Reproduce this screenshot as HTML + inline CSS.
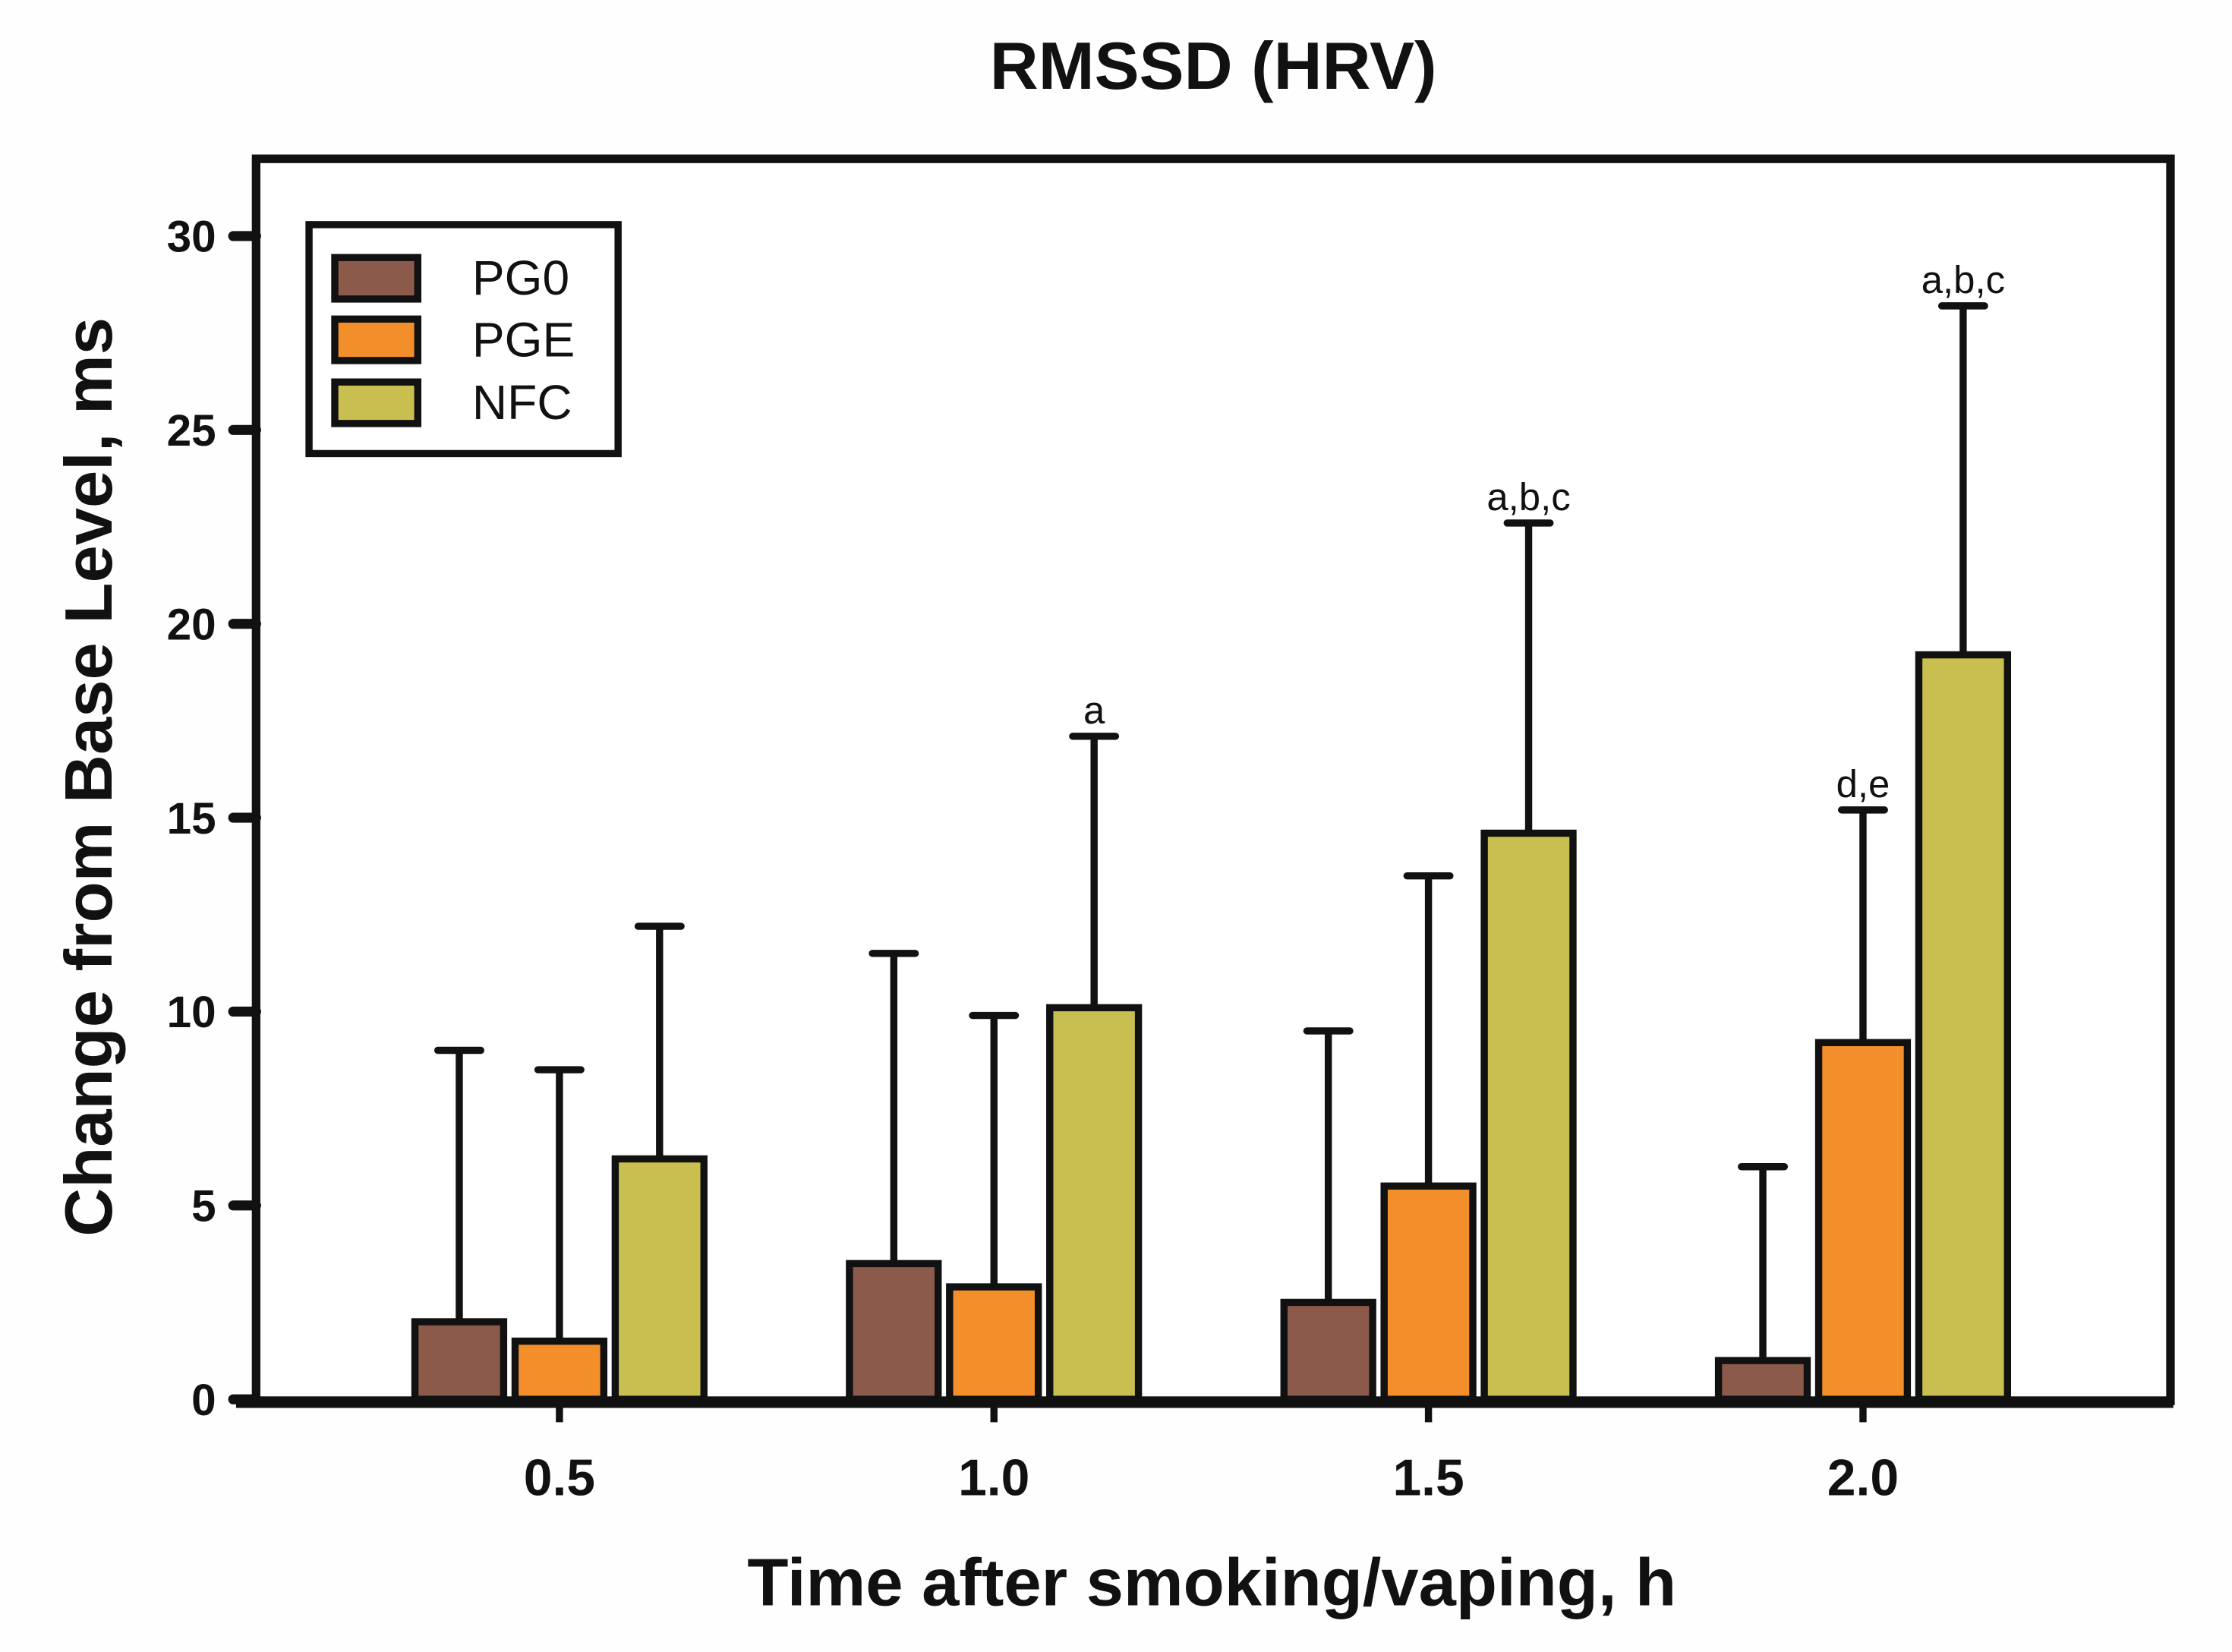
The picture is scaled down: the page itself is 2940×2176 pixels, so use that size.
<!DOCTYPE html>
<html><head><meta charset="utf-8"><style>
html,body{margin:0;padding:0;background:#fefefe;}
svg{display:block;}
text{font-family:"Liberation Sans",sans-serif;fill:#111;}
</style></head><body>
<svg id="chart" width="2940" height="2176" viewBox="0 0 1560 1154.6" preserveAspectRatio="none" xmlns="http://www.w3.org/2000/svg">
<rect x="0" y="0" width="1560" height="1154.6" fill="#fefefe"/>
<text x="848" y="62" text-anchor="middle" font-size="47" font-weight="bold">RMSSD (HRV)</text>
<rect x="179" y="111" width="1338" height="868" fill="#fff" stroke="#111" stroke-width="6"/>
<g id="bars"></g>
<line x1="165" y1="980" x2="1519" y2="980" stroke="#111" stroke-width="8"/>
<g id="yaxis"></g>
<g id="xaxis"></g>
<text transform="translate(78,543) rotate(-90)" text-anchor="middle" font-size="47" font-weight="bold">Change from Base Level, ms</text>
<text x="847" y="1122" text-anchor="middle" font-size="47" font-weight="bold">Time after smoking/vaping, h</text>
<g>
<rect x="216" y="157" width="216" height="160" fill="#fff" stroke="#111" stroke-width="5"/>
<rect x="234" y="180" width="58" height="29" fill="#8b5a4a" stroke="#111" stroke-width="5"/>
<text x="330" y="206" font-size="34">PG0</text>
<rect x="234" y="223" width="58" height="29" fill="#f28f2a" stroke="#111" stroke-width="5"/>
<text x="330" y="249" font-size="34">PGE</text>
<rect x="234" y="267" width="58" height="29" fill="#c8bf50" stroke="#111" stroke-width="5"/>
<text x="330" y="293" font-size="34">NFC</text>
</g>
</svg>
<script>
const categories = ["0.5","1.0","1.5","2.0"];
const seriesNames = ["PG0","PGE","NFC"];
const pg0 = [2.0, 3.5, 2.5, 1.0];
const pge = [1.5, 2.9, 5.5, 9.2];
const nfc = [6.2, 10.1, 14.6, 19.2];
const pg0Err = [9.0, 11.5, 9.5, 6.0];
const pgeErr = [8.5, 9.9, 13.5, 15.2];
const nfcErr = [12.2, 17.1, 22.6, 28.2];
const pg0Labels = ["","","",""];
const pgeLabels = ["","","","d,e"];
const nfcLabels = ["","a","a,b,c","a,b,c"];
const yTicks = [0,5,10,15,20,25,30];

const NS = "http://www.w3.org/2000/svg";
const colors = ["#8b5a4a","#f28f2a","#c8bf50"];
const vals = [pg0, pge, nfc];
const errs = [pg0Err, pgeErr, nfcErr];
const labs = [pg0Labels, pgeLabels, nfcLabels];
function y(v){ return 978 - v * (978 - 165) / 30; }
function xc(i){ return 391 + i * 303.7; }
function mk(tag, attrs, parent){ const e = document.createElementNS(NS, tag); for (const k in attrs) e.setAttribute(k, attrs[k]); parent.appendChild(e); return e; }

const yg = document.getElementById('yaxis');
yTicks.forEach(t => {
  const l = mk('line', {x1:163, y1:y(t), x2:179, y2:y(t), stroke:'#111', 'stroke-width':7, 'stroke-linecap':'round'}, yg);
  
  
  const tx = mk('text', {x:151, y:y(t)+11, 'text-anchor':'end', 'font-size':31, 'font-weight':'bold'}, yg);
  tx.textContent = t;
  
  
});
const xg = document.getElementById('xaxis');
categories.forEach((c, i) => {
  const l = mk('line', {x1:xc(i), y1:980, x2:xc(i), y2:994, stroke:'#111', 'stroke-width':5}, xg);
  
  
  const tx = mk('text', {x:xc(i), y:1045, 'text-anchor':'middle', 'font-size':36, 'font-weight':'bold'}, xg);
  tx.textContent = c;
  
  
});
const bg = document.getElementById('bars');
categories.forEach((c, i) => {
  seriesNames.forEach((s, j) => {
    const cx = xc(i) + (j - 1) * 70;
    const v = vals[j][i], e = errs[j][i];
    const ln = mk('line', {x1:cx, y1:y(e), x2:cx, y2:y(v), stroke:'#111', 'stroke-width':5}, bg);
    
    
    const cap = mk('line', {x1:cx-15, y1:y(e), x2:cx+15, y2:y(e), stroke:'#111', 'stroke-width':5, 'stroke-linecap':'round'}, bg);
    
    
    const r = mk('rect', {x:cx-31, y:y(v), width:62, height:978 - y(v), fill:colors[j], stroke:'#111', 'stroke-width':5}, bg);
    
    
    if (labs[j][i]) {
      const t = mk('text', {x:cx, y:y(e)-9, 'text-anchor':'middle', 'font-size':27}, bg);
      t.textContent = labs[j][i];
      
      
    }
  });
});
</script>
</body></html>
